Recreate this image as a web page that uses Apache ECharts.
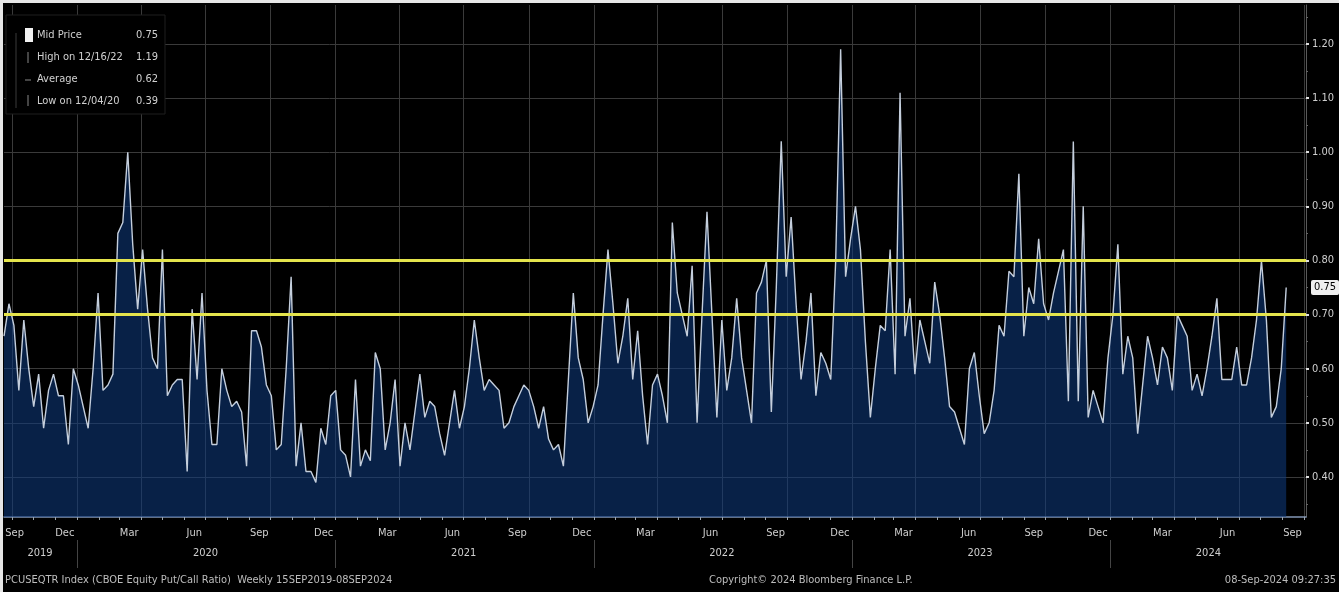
<!DOCTYPE html>
<html><head><meta charset="utf-8">
<script src="https://cdn.jsdelivr.net/npm/echarts@6/dist/echarts.min.js"></script>
<style>html,body{margin:0;padding:0;background:#000}#c{width:1339px;height:592px}</style>
</head><body><div id="c"></div>
<script>
// Weekly observations (Fridays), first on 20 Sep 2019
const firstObservation = '2019-09-20';
const values2019 = [0.66,0.72,0.68,0.56,0.69,0.60,0.53,0.59,0.49,0.56,0.59,0.55,0.55,0.46,0.60];
const values2020 = [0.57,0.53,0.49,0.60,0.74,0.56,0.57,0.59,0.85,0.87,1.00,0.83,0.71,0.82,0.71,0.62,0.60,0.82,0.55,0.57,0.58,0.58,0.41,0.71,0.58,0.74,0.56,0.46,0.46,0.60,0.56,0.53,0.54,0.52,0.42,0.67,0.67,0.64,0.57,0.55,0.45,0.46,0.60,0.77,0.42,0.50,0.41,0.41,0.39,0.49,0.46,0.55];
const values2021 = [0.56,0.45,0.44,0.40,0.58,0.42,0.45,0.43,0.63,0.60,0.45,0.50,0.58,0.42,0.50,0.45,0.52,0.59,0.51,0.54,0.53,0.48,0.44,0.50,0.56,0.49,0.53,0.60,0.69,0.62,0.56,0.58,0.57,0.56,0.49,0.50,0.53,0.55,0.57,0.56,0.53,0.49,0.53,0.47,0.45,0.46,0.42,0.58,0.74,0.62,0.58,0.50,0.53];
const values2022 = [0.57,0.70,0.82,0.72,0.61,0.66,0.73,0.58,0.67,0.55,0.46,0.57,0.59,0.55,0.50,0.87,0.74,0.70,0.66,0.79,0.50,0.70,0.89,0.70,0.51,0.69,0.56,0.62,0.73,0.62,0.56,0.50,0.74,0.76,0.80,0.52,0.75,1.02,0.77,0.88,0.72,0.58,0.65,0.74,0.55,0.63,0.61,0.58,0.80,1.19,0.77,0.84];
const values2023 = [0.90,0.82,0.65,0.51,0.60,0.68,0.67,0.82,0.59,1.11,0.66,0.73,0.59,0.69,0.65,0.61,0.76,0.70,0.62,0.53,0.52,0.49,0.46,0.60,0.63,0.55,0.48,0.50,0.56,0.68,0.66,0.78,0.77,0.96,0.66,0.75,0.72,0.84,0.72,0.69,0.74,0.78,0.82,0.54,1.02,0.54,0.90,0.51,0.56,0.53,0.50,0.62];
const values2024 = [0.70,0.83,0.59,0.66,0.62,0.48,0.57,0.66,0.62,0.57,0.64,0.62,0.56,0.70,0.68,0.66,0.56,0.59,0.55,0.60,0.66,0.73,0.58,0.58,0.58,0.64,0.57,0.57,0.62,0.69,0.80,0.69,0.51,0.53,0.60,0.75];

const thresholds = [0.80, 0.70];
const lastPrice = 0.75;
const yTicks = [0.40,0.50,0.60,0.70,0.80,0.90,1.00,1.10,1.20];
const yMinorTicks = [0.35,0.45,0.55,0.65,0.75,0.85,0.95,1.05,1.15,1.25];
const monthLabels = ['Sep','Dec','Mar','Jun','Sep','Dec','Mar','Jun','Sep','Dec','Mar','Jun','Sep','Dec','Mar','Jun','Sep','Dec','Mar','Jun','Sep'];
const monthLabelDates = ['2019-10-05','2019-12-15','2020-03-15','2020-06-15','2020-09-15','2020-12-15','2021-03-15','2021-06-15','2021-09-15','2021-12-15','2022-03-15','2022-06-15','2022-09-15','2022-12-15','2023-03-15','2023-06-15','2023-09-15','2023-12-15','2024-03-15','2024-06-15','2024-09-15'];
const yearLabels = ['2019','2020','2021','2022','2023','2024'];
const yearLabelDates = ['2019-11-10','2020-07-01','2021-07-01','2022-07-01','2023-07-01','2024-05-19'];
const yearStarts = ['2020-01-01','2021-01-01','2022-01-01','2023-01-01','2024-01-01'];
const axisStart = '2019-09-20', axisEnd = '2024-10-04';
const legendRows = [['Mid Price','0.75'],['High on 12/16/22','1.19'],['Average','0.62'],['Low on 12/04/20','0.39']];
const footerLeft = 'PCUSEQTR Index (CBOE Equity Put/Call Ratio)  Weekly 15SEP2019-08SEP2024';
const footerCenter = 'Copyright\u00A9 2024 Bloomberg Finance L.P.';
const footerRight = '08-Sep-2024 09:27:35';

const DAY = 86400000;
function ts(s){ const p = s.split('-').map(Number); return Date.UTC(p[0], p[1]-1, p[2]); }
const values = [].concat(values2019, values2020, values2021, values2022, values2023, values2024);
const t0 = ts(firstObservation);
const seriesData = values.map((v, i) => [t0 + i * 7 * DAY, v]);
const xMin = ts(axisStart), xMax = ts(axisEnd);
const monthStarts = [], quarterStarts = [];
for (let y = 2019; y <= 2024; y++) for (let m = 0; m < 12; m++) {
  const t = Date.UTC(y, m, 1);
  if (t >= xMin && t <= xMax) { monthStarts.push(t); if (m % 3 === 0) quarterStarts.push(t); }
}
const monthLabelTs = monthLabelDates.map(ts);
const yearLabelTs = yearLabelDates.map(ts);
const F = "'Liberation Sans Narrow','DejaVu Sans Condensed','Roboto',sans-serif";
const yMin = 0.326, yMax = 1.272;

const baseX = { type: 'value', min: xMin, max: xMax, gridIndex: 0, position: 'bottom', scale: true };
const baseY = { type: 'value', min: yMin, max: yMax, gridIndex: 0, position: 'right' };

const graphic = [
  { type: 'rect', shape: { x: 6, y: 15, width: 159, height: 99 }, style: { fill: '#000', stroke: '#1e1e1e', lineWidth: 1 }, z: 100 },
  { type: 'line', shape: { x1: 16, y1: 33, x2: 16, y2: 108 }, style: { stroke: '#3a3a3a', lineWidth: 1 }, z: 101 },
  { type: 'rect', shape: { x: 25, y: 28, width: 8, height: 14 }, style: { fill: '#f2f2f2' }, z: 101 },
  { type: 'line', shape: { x1: 28, y1: 52, x2: 28, y2: 63 }, style: { stroke: '#888', lineWidth: 1 }, z: 101 },
  { type: 'line', shape: { x1: 25, y1: 80, x2: 31, y2: 80 }, style: { stroke: '#888', lineWidth: 1 }, z: 101 },
  { type: 'line', shape: { x1: 28, y1: 95, x2: 28, y2: 106 }, style: { stroke: '#888', lineWidth: 1 }, z: 101 },
  { type: 'rect', shape: { x: 0, y: 0, width: 1339, height: 3 }, style: { fill: '#e6e6e6' }, z: 200 },
  { type: 'rect', shape: { x: 0, y: 0, width: 3, height: 592 }, style: { fill: '#e6e6e6' }, z: 200 },
  { type: 'text', x: 5, y: 580, style: { text: footerLeft, fill: '#bdbdbd', font: "11px " + F, textVerticalAlign: 'middle' }, z: 101 },
  { type: 'text', x: 709, y: 580, style: { text: footerCenter, fill: '#bdbdbd', font: "11px " + F, textVerticalAlign: 'middle' }, z: 101 },
  { type: 'text', x: 1336, y: 580, style: { text: footerRight, fill: '#bdbdbd', font: "11px " + F, textAlign: 'right', textVerticalAlign: 'middle' }, z: 101 }
];
const rowY = [35, 57, 79, 101];
legendRows.forEach((r, i) => {
  graphic.push({ type: 'text', x: 37, y: rowY[i], style: { text: r[0], fill: '#d0d0d0', font: "11px " + F, textVerticalAlign: 'middle' }, z: 101 });
  graphic.push({ type: 'text', x: 158, y: rowY[i], style: { text: r[1], fill: '#d0d0d0', font: "11px " + F, textAlign: 'right', textVerticalAlign: 'middle' }, z: 101 });
});

const chart = echarts.init(document.getElementById('c'), null, { renderer: 'canvas' });
chart.setOption({
  backgroundColor: '#000',
  animation: false,
  grid: { left: 4, right: 33, top: 5, bottom: 75, containLabel: false, outerBoundsMode: 'none' },
  xAxis: [
    Object.assign({}, baseX, {
      axisLine: { show: true, lineStyle: { color: '#8397b5', width: 1.5 } },
      axisTick: { show: true, customValues: monthStarts, length: 3, lineStyle: { color: '#9aa3ad' } },
      axisLabel: { show: true, customValues: monthLabelTs, formatter: v => monthLabels[monthLabelTs.indexOf(v)] || '', color: '#cfcfcf', fontSize: 11, fontFamily: F, margin: 11 },
      splitLine: { show: false }
    }),
    Object.assign({}, baseX, {
      axisLine: { show: false },
      axisTick: { show: false, customValues: quarterStarts },
      axisLabel: { show: false },
      splitLine: { show: true, lineStyle: { color: '#3a3a3a', width: 1 } }
    }),
    Object.assign({}, baseX, {
      offset: 23,
      axisLine: { show: false },
      axisTick: { show: true, customValues: yearStarts.map(ts), length: 28, lineStyle: { color: '#444' } },
      axisLabel: { show: true, customValues: yearLabelTs, formatter: v => yearLabels[yearLabelTs.indexOf(v)] || '', color: '#cfcfcf', fontSize: 11, fontFamily: F, margin: 8 },
      splitLine: { show: false }
    })
  ],
  yAxis: [
    Object.assign({}, baseY, {
      axisLine: { show: true, lineStyle: { color: '#5a5a5a' } },
      axisTick: { show: true, customValues: yTicks, length: 3, lineStyle: { color: '#e0e0e0', width: 2 } },
      axisLabel: { show: true, customValues: yTicks, formatter: v => v.toFixed(2), color: '#cfcfcf', fontSize: 11, fontFamily: F, margin: 6 },
      splitLine: { show: true, lineStyle: { color: '#3a3a3a', width: 1 } }
    }),
    Object.assign({}, baseY, {
      axisLine: { show: false },
      axisTick: { show: true, customValues: yMinorTicks, length: 2, lineStyle: { color: '#666' } },
      axisLabel: { show: false },
      splitLine: { show: false }
    }),
    Object.assign({}, baseY, {
      axisLine: { show: false },
      axisTick: { show: false, customValues: [lastPrice] },
      axisLabel: { show: true, customValues: [lastPrice], formatter: v => v.toFixed(2), color: '#000', backgroundColor: '#efefef', padding: [2, 3], borderRadius: 2, fontSize: 11, fontFamily: F, margin: 5 },
      splitLine: { show: false }
    })
  ],
  graphic: graphic,
  series: [{
    name: 'Mid Price',
    type: 'line',
    xAxisIndex: 0, yAxisIndex: 0,
    data: seriesData,
    symbol: 'none',
    showSymbol: false,
    lineStyle: { color: '#c4cedc', width: 1.4 },
    areaStyle: { color: 'rgba(14,58,126,0.8)', origin: 'start' },
    markLine: {
      silent: true, symbol: 'none', label: { show: false },
      lineStyle: { color: '#e4e44c', width: 3, type: 'solid' },
      data: thresholds.map(v => ({ yAxis: v }))
    }
  }]
});
</script></body></html>
